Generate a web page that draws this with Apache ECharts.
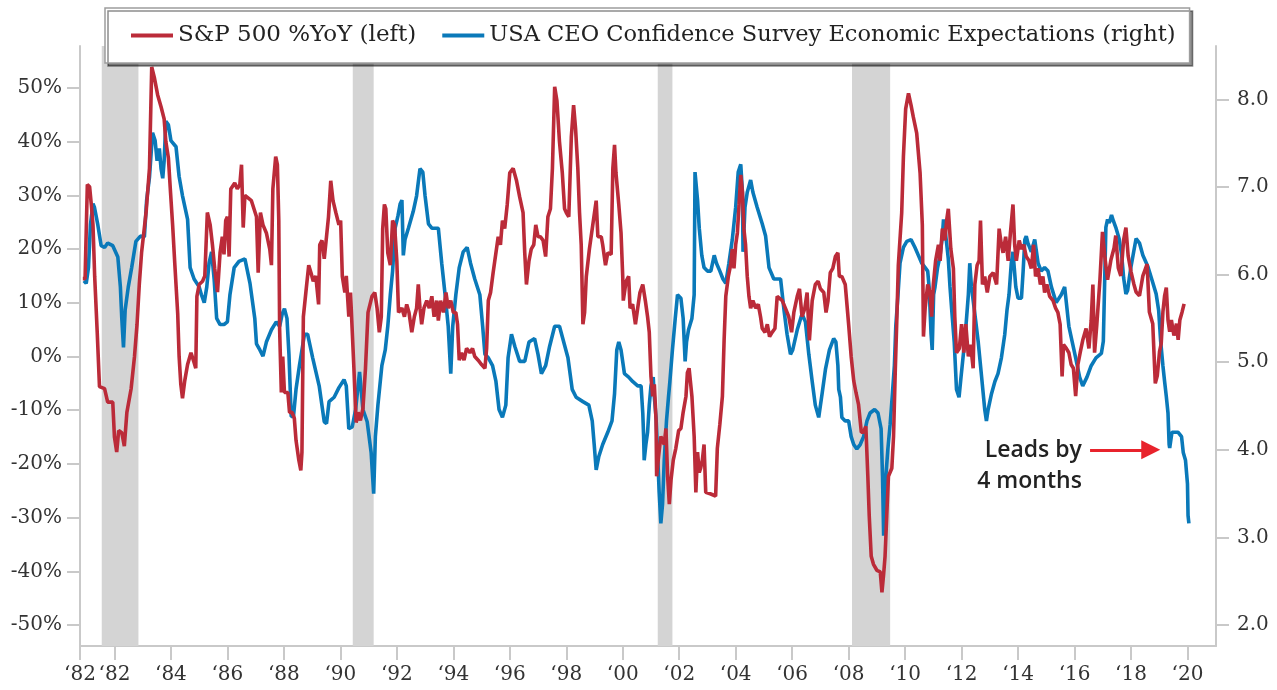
<!DOCTYPE html>
<html>
<head>
<meta charset="utf-8">
<title>S&amp;P 500 vs CEO Confidence</title>
<script src="https://cdn.jsdelivr.net/npm/echarts@6.0.0/dist/echarts.min.js"></script>
<style>
  html, body { margin: 0; padding: 0; background: #fff; }
  #chart { width: 1277px; height: 690px; }
</style>
</head>
<body>
<div id="chart"></div>
<script>
// recessions, decimal years
const recessions = [[1981.55, 1982.85], [1990.44, 1991.18], [2001.24, 2001.76], [2008.12, 2009.47]];

const xTickYears = [1980.78, 1982, 1984, 1986, 1988, 1990, 1992, 1994, 1996, 1998, 2000,
  2002, 2004, 2006, 2008, 2010, 2012, 2014, 2016, 2018, 2020];
const xTickLabels = ['‘82', '‘82', '‘84', '‘86', '‘88', '‘90', '‘92', '‘94', '‘96', '‘98', '‘00',
  '‘02', '‘04', '‘06', '‘08', '‘10', '‘12', '‘14', '‘16', '‘18', '‘20'];
const leftTicks = [-50, -40, -30, -20, -10, 0, 10, 20, 30, 40, 50];
const rightTicks = [2, 3, 4, 5, 6, 7, 8];

// S&P 500 % YoY (left axis)
const spxYoY = [
  [1980.88,14.5],[1980.96,14.5],[1981.04,32],[1981.12,31.6],[1981.18,28.3],[1981.24,24.5],[1981.3,14.9],
  [1981.39,4.5],[1981.47,-5.6],[1981.65,-6],[1981.76,-8.5],[1981.94,-8.5],[1982.0,-15],[1982.08,-17.8],
  [1982.15,-13.8],[1982.26,-14.2],[1982.35,-16.7],[1982.44,-10.4],[1982.59,-6],[1982.71,0],[1982.8,6],
  [1982.88,13.4],[1982.96,19.3],[1983.12,26.8],[1983.24,35],[1983.32,53.9],[1983.41,52],[1983.53,48.7],
  [1983.65,46.5],[1983.76,44.2],[1983.82,40],[1983.91,37],[1983.98,31],[1984.06,24.5],[1984.14,17],
  [1984.24,8],[1984.29,0],[1984.35,-5.2],[1984.41,-7.8],[1984.49,-4.5],[1984.59,-1.5],[1984.71,0.7],
  [1984.82,-1.1],[1984.88,-2.2],[1984.92,11.2],[1985.0,13.4],[1985.12,14],[1985.2,15],[1985.29,26.8],
  [1985.39,24.5],[1985.47,20.8],[1985.55,16.4],[1985.65,12],[1985.74,19.3],[1985.82,22.3],[1985.88,19],
  [1985.94,25.3],[1986.0,26],[1986.06,18.6],[1986.12,31.2],[1986.26,32.3],[1986.35,31.2],
  [1986.44,32],[1986.5,35.7],[1986.56,24],[1986.62,30],[1986.85,29],[1987.03,26],[1987.09,15.6],
  [1987.17,26.8],[1987.26,24.5],[1987.38,23],[1987.5,20],[1987.56,17],[1987.61,31.2],[1987.71,37.2],
  [1987.77,35.7],[1987.82,25.3],[1987.85,5],[1987.91,-6.7],[1987.96,0],[1988.02,-6.7],[1988.14,-6.7],
  [1988.2,-10.4],[1988.29,-10.4],[1988.37,-11.5],[1988.43,-15.6],[1988.53,-19.3],[1988.6,-21.2],
  [1988.64,-17.8],[1988.69,7.4],[1988.78,12],[1988.88,17],[1988.96,15.6],[1989.04,14],[1989.13,15],
  [1989.23,9.7],[1989.27,20.8],[1989.35,21.6],[1989.43,18.2],[1989.51,22.3],[1989.58,26],[1989.66,32.7],
  [1989.74,29],[1989.84,26.8],[1989.95,24.5],[1990.01,25.3],[1990.07,14.9],[1990.16,11.9],[1990.21,15],
  [1990.3,7.4],[1990.36,11.9],[1990.48,-2.2],[1990.56,-12.3],[1990.63,-10.4],[1990.71,-11.9],
  [1990.8,-9.7],[1990.89,-2.2],[1990.98,8.2],[1991.12,11.2],[1991.22,11.9],[1991.3,9],[1991.38,4.5],
  [1991.45,7.4],[1991.5,23.8],[1991.56,28.3],[1991.61,27.5],[1991.68,19.3],[1991.77,17],[1991.85,25.3],
  [1991.92,24.5],[1992.0,17.8],[1992.06,8.2],[1992.18,9],[1992.27,7.4],[1992.35,9.7],[1992.43,8.2],
  [1992.53,4.5],[1992.62,7.4],[1992.7,9],[1992.76,13.4],
  [1992.82,9],[1992.88,6],[1992.96,9],[1993.06,10.4],[1993.15,9],[1993.24,11.2],[1993.32,7.4],
  [1993.41,10.4],[1993.47,6.7],[1993.55,10.4],[1993.65,8.2],[1993.74,11.9],[1993.82,9],[1993.91,10.4],
  [1994.0,8.2],[1994.09,8.2],[1994.15,6],[1994.21,-0.7],[1994.29,0.7],[1994.38,-0.7],[1994.47,1.5],
  [1994.59,0.7],[1994.68,1.5],[1994.76,0],[1994.88,-0.7],[1995.0,-1.5],[1995.12,-2.2],[1995.18,1.5],
  [1995.24,10.4],[1995.32,11.9],[1995.41,15.6],[1995.51,19.3],[1995.59,22.3],[1995.67,20.8],
  [1995.74,25.3],[1995.82,23.8],[1995.91,28.3],[1996.0,34.2],[1996.12,35],[1996.24,32.7],[1996.35,29.7],
  [1996.47,26.8],[1996.53,19.3],[1996.59,13.4],[1996.68,17.8],[1996.76,20],[1996.85,20.8],[1996.92,24.5],
  [1997.0,22.3],[1997.08,22.3],[1997.18,21.6],[1997.27,18.6],[1997.35,26],[1997.44,27.5],[1997.51,35],
  [1997.59,50.2],[1997.67,47.6],[1997.76,40],[1997.86,34.2],[1997.94,27.5],[1998.0,26.8],[1998.09,26],
  [1998.18,40.9],[1998.26,46.8],[1998.33,42.4],[1998.41,35],[1998.47,26.8],[1998.53,20.8],[1998.59,6],
  [1998.65,8.2],[1998.71,14.9],[1998.82,20],[1998.94,24.5],[1999.06,29],[1999.12,22.3],
  [1999.24,22.3],[1999.29,20.8],[1999.39,17],[1999.47,19.3],[1999.59,19],[1999.65,35],[1999.71,39.4],
  [1999.76,34.2],[1999.86,28.3],[1999.94,23],[2000.0,14.9],[2000.02,10.4],[2000.12,14],[2000.21,14.9],
  [2000.26,9],[2000.35,9.7],[2000.45,6],[2000.53,9],[2000.61,11.9],[2000.71,13.4],[2000.8,10.4],
  [2000.88,7.4],[2000.94,4.5],[2001.0,-3.7],[2001.06,-7.4],[2001.12,-5.2],[2001.18,-11.9],[2001.2,-22.3],
  [2001.27,-18.6],[2001.35,-14.9],[2001.47,-16.4],[2001.53,-13.4],[2001.59,-22.3],[2001.65,-27.5],
  [2001.71,-23],[2001.79,-19.3],[2001.88,-17.1],[2001.98,-13.8],[2002.06,-13.4],[2002.14,-10.4],
  [2002.24,-7.4],[2002.29,-3],[2002.35,-2.2],[2002.45,-7.4],[2002.53,-14.9],[2002.59,-25.3],
  [2002.65,-17.8],[2002.71,-21.6],[2002.76,-20.8],[2002.82,-19.3],[2002.88,-16.4],[2002.94,-25.3],
  [2003.12,-25.6],[2003.29,-26],[2003.35,-17.1],[2003.44,-12.6],[2003.53,-7.4],[2003.59,3],[2003.65,11.2],
  [2003.74,14.9],[2003.82,17],[2003.88,20],[2003.94,16.4],[2004.0,20.8],[2004.06,23],[2004.12,28.3],
  [2004.18,33.8],[2004.24,30.5],[2004.29,23.8],[2004.35,20.8],[2004.41,14.9],[2004.47,11.2],[2004.53,9],
  [2004.61,10.4],[2004.71,9],[2004.8,9.7],[2004.88,7.4],[2004.94,5.2],[2005.04,4.5],[2005.12,6],
  [2005.2,3.7],[2005.29,4.5],[2005.39,5.2],[2005.47,11.2],
  [2005.53,11.2],[2005.65,10.4],[2005.76,9],[2005.88,7.4],[2005.98,4.5],[2006.06,8.2],[2006.18,11.2],
  [2006.26,12.6],[2006.35,7.4],[2006.45,9],[2006.53,11.9],[2006.61,3],[2006.71,10.4],[2006.82,13.4],
  [2006.92,14],[2007.0,12.6],[2007.12,11.9],[2007.2,8.2],[2007.27,10.4],[2007.35,15.6],[2007.44,16.4],
  [2007.53,18.6],[2007.62,19.3],[2007.67,14.9],[2007.76,14.9],[2007.88,13.4],[2008.0,6],[2008.09,0],
  [2008.18,-4.5],[2008.26,-6.7],[2008.35,-8.9],[2008.45,-14.1],[2008.53,-14.1],[2008.61,-13],
  [2008.68,-22.3],[2008.73,-29.7],[2008.8,-37.2],[2008.88,-38.7],[2009.0,-39.8],[2009.12,-40.1],
  [2009.18,-43.9],[2009.24,-40.5],[2009.29,-37.2],[2009.35,-29.7],[2009.41,-22.3],[2009.53,-20.8],
  [2009.59,-14.9],[2009.65,-3],[2009.71,7.4],[2009.76,17],[2009.88,26.8],[2009.94,37.2],[2010.02,46.1],
  [2010.12,49],[2010.21,46.8],[2010.29,44.6],[2010.41,41.6],[2010.53,34.2],[2010.61,24.5],[2010.65,3.7],
  [2010.71,9],[2010.8,13.4],[2010.88,11.9],[2010.94,7.4],[2011.0,13.4],[2011.08,17.8],[2011.18,20.8],
  [2011.24,17.8],[2011.32,23.8],[2011.41,21.6],[2011.47,25.3],[2011.53,27.5],[2011.62,20],[2011.71,16.4],
  [2011.76,7.4],[2011.82,0.7],
  [2011.92,1.5],[2012.0,6],[2012.08,0.7],[2012.15,6],[2012.24,0],[2012.32,2.2],[2012.41,-2.2],
  [2012.47,13.4],[2012.55,17],[2012.62,17.8],[2012.67,25.3],[2012.74,13.4],[2012.82,14.9],[2012.91,11.9],
  [2013.0,14.9],[2013.12,15.6],[2013.24,13.4],[2013.33,23.8],[2013.41,20.8],[2013.47,19.3],[2013.56,22.3],
  [2013.65,17.8],[2013.73,23],[2013.82,28.3],[2013.88,20.8],[2013.94,17.8],[2014.04,21.6],[2014.12,20],
  [2014.2,20.8],[2014.29,18.6],[2014.39,17.8],[2014.47,16.4],[2014.55,20.8],[2014.62,14.9],[2014.71,16.4],
  [2014.79,13.4],[2014.88,14.9],[2014.94,11.9],[2015.02,13.4],[2015.12,11.2],[2015.24,10.4],[2015.33,9],
  [2015.41,8.2],[2015.49,6],[2015.56,-3.7],[2015.61,2.2],[2015.71,1.5],[2015.8,0.7],[2015.88,-1.5],
  [2015.96,-2.2],[2016.04,-7.4],[2016.12,-1.5],[2016.2,0.7],[2016.29,3],[2016.41,5.2],[2016.51,1.5],
  [2016.59,6.7],[2016.65,13.4],[2016.71,0.7],[2016.79,6],
  [2016.9,14.3],[2016.99,23.2],[2017.07,18.7],[2017.17,14.3],[2017.29,18],[2017.4,20.2],[2017.46,22.5],
  [2017.55,16.5],[2017.64,15],[2017.74,21.7],[2017.82,24],[2017.9,18.7],[2018.0,15.8],[2018.1,13.5],
  [2018.18,12],[2018.3,11.3],[2018.42,15],[2018.57,17.2],[2018.65,8.3],[2018.77,6.1],[2018.86,-5],
  [2018.93,-3.6],[2019.01,0.9],[2019.07,2.4],[2019.13,8.3],[2019.19,11.3],[2019.25,12.8],[2019.31,6.8],
  [2019.37,4.6],[2019.43,6.8],[2019.52,3.9],[2019.61,6.1],[2019.67,3.1],[2019.73,6.8],[2019.81,8.3],
  [2019.88,9.8]
];

// USA CEO Confidence Survey, economic expectations (right axis)
const ceoExpect = [
  [1980.92,5.93],[1981.0,5.9],[1981.08,6.08],[1981.15,6.57],[1981.24,6.81],[1981.29,6.77],[1981.41,6.57],
  [1981.53,6.33],[1981.65,6.31],[1981.76,6.36],[1981.94,6.33],[1982.12,6.2],[1982.21,5.86],[1982.26,5.5],
  [1982.32,5.17],[1982.38,5.6],[1982.49,5.86],[1982.61,6.08],[1982.76,6.38],[1982.92,6.44],[1983.06,6.43],
  [1983.14,6.85],[1983.24,7.11],[1983.35,7.62],[1983.44,7.53],[1983.51,7.3],[1983.59,7.44],[1983.65,7.21],
  [1983.71,7.1],[1983.76,7.3],[1983.82,7.75],[1983.91,7.71],[1984.0,7.53],[1984.18,7.46],[1984.29,7.12],
  [1984.41,6.9],[1984.59,6.63],[1984.68,6.08],[1984.82,5.95],[1985.0,5.86],[1985.08,5.77],[1985.18,5.68],
  [1985.27,5.86],[1985.35,6.13],[1985.44,6.26],[1985.53,5.95],[1985.62,5.5],[1985.74,5.43],[1985.88,5.43],
  [1986.0,5.46],[1986.09,5.77],[1986.24,6.08],[1986.41,6.15],[1986.62,6.18],[1986.8,5.9],[1986.97,5.5],
  [1987.03,5.21],[1987.15,5.14],[1987.26,5.07],[1987.38,5.23],[1987.56,5.37],[1987.73,5.46],[1987.85,5.41],
  [1987.94,5.55],[1988.02,5.61],[1988.11,5.5],[1988.18,5.09],[1988.26,4.38],[1988.34,4.38],[1988.43,4.69],
  [1988.55,4.96],[1988.73,5.32],[1988.84,5.32],[1989.02,5.05],[1989.25,4.73],[1989.43,4.32],[1989.51,4.3],
  [1989.6,4.55],[1989.78,4.6],[1989.95,4.71],[1990.13,4.8],[1990.21,4.73],[1990.3,4.24],[1990.42,4.26],
  [1990.54,4.46],[1990.68,4.89],[1990.8,4.46],[1990.95,4.32],[1991.09,3.97],[1991.18,3.5],[1991.24,4.15],
  [1991.33,4.51],[1991.47,4.96],[1991.59,5.14],[1991.68,5.41],[1991.77,5.77],[1991.85,6.04],[1991.94,6.53],
  [1992.04,6.67],[1992.12,6.81],[1992.18,6.85],[1992.23,6.22],[1992.29,6.4],[1992.41,6.53],[1992.58,6.72],
  [1992.7,6.9],[1992.82,7.21],[1992.92,7.17],[1993.0,6.9],[1993.12,6.58],[1993.24,6.53],[1993.47,6.53],
  [1993.59,6.13],[1993.71,5.77],[1993.82,5.41],[1993.91,4.87],[1993.98,5.41],[1994.09,5.77],[1994.21,6.08],
  [1994.35,6.26],[1994.49,6.31],[1994.61,6.13],[1994.76,5.95],[1994.94,5.77],[1995.04,5.41],[1995.12,5.09],
  [1995.24,5.05],[1995.39,4.96],[1995.51,4.78],[1995.62,4.46],[1995.74,4.37],[1995.86,4.51],[1995.94,5.05],
  [1996.06,5.32],[1996.18,5.18],[1996.35,5.01],[1996.53,5.01],[1996.68,5.23],[1996.88,5.27],[1997.0,5.09],
  [1997.12,4.87],[1997.27,4.96],[1997.41,5.18],[1997.59,5.41],[1997.76,5.41],[1997.91,5.23],[1998.06,5.05],
  [1998.21,4.69],[1998.35,4.6],[1998.59,4.55],[1998.8,4.51],[1998.92,4.33],[1998.99,4.06],[1999.06,3.77],
  [1999.15,3.92],[1999.29,4.06],[1999.47,4.2],[1999.62,4.33],[1999.71,4.64],[1999.79,5.14],[1999.86,5.23],
  [1999.94,5.14],[2000.06,4.87],[2000.21,4.83],[2000.35,4.78],[2000.53,4.73],[2000.65,4.73],[2000.71,4.42],
  [2000.74,4.15],[2000.76,3.88],[2000.82,4.06],[2000.88,4.2],[2000.94,4.51],[2001.0,4.73],[2001.08,4.83],
  [2001.12,4.6],[2001.18,4.37],[2001.24,3.92],[2001.29,3.52],[2001.35,3.16],[2001.41,3.38],[2001.47,3.88],
  [2001.55,4.33],[2001.62,4.6],[2001.67,4.78],[2001.76,5.14],[2001.86,5.5],[2001.94,5.77],[2002.06,5.73],
  [2002.14,5.5],[2002.21,5.01],[2002.26,5.23],[2002.33,5.37],[2002.45,5.5],[2002.53,5.77],[2002.56,7.17],
  [2002.65,6.85],[2002.71,6.53],[2002.8,6.22],[2002.88,6.08],[2003.0,6.04],[2003.12,6.04],[2003.24,6.22],
  [2003.32,6.13],[2003.44,6.04],[2003.55,5.95],[2003.65,5.9],[2003.76,6.13],[2003.88,6.4],[2004.0,6.77],
  [2004.09,7.17],[2004.18,7.26],[2004.24,6.94],[2004.26,6.26],[2004.33,6.77],[2004.41,6.94],[2004.53,7.08],
  [2004.61,6.94],[2004.76,6.77],[2004.94,6.58],[2005.06,6.44],[2005.18,6.08],[2005.35,5.95],[2005.59,5.95],
  [2005.71,5.6],[2005.82,5.32],[2005.94,5.09],[2006.02,5.14],[2006.18,5.37],[2006.35,5.55],[2006.47,5.46],
  [2006.59,5.09],[2006.71,4.78],[2006.82,4.51],[2006.94,4.37],[2007.06,4.64],[2007.18,4.92],[2007.32,5.14],
  [2007.47,5.27],[2007.55,5.23],[2007.62,4.96],[2007.65,4.69],[2007.71,4.6],[2007.76,4.37],[2007.88,4.33],
  [2008.0,4.33],[2008.09,4.15],[2008.18,4.06],[2008.29,4.01],[2008.41,4.06],[2008.53,4.15],[2008.65,4.33],
  [2008.76,4.42],[2008.92,4.46],[2009.04,4.42],[2009.15,4.24],[2009.2,3.7],[2009.24,3.02],[2009.29,3.57],
  [2009.39,4.01],[2009.47,4.29],[2009.53,4.55],[2009.62,4.96],[2009.67,5.41],[2009.74,5.73],[2009.82,6.13],
  [2009.94,6.31],[2010.06,6.38],[2010.21,6.4],[2010.35,6.31],[2010.47,6.22],[2010.59,6.13],[2010.71,6.08],
  [2010.8,6.04],[2010.85,5.86],[2010.92,5.32],[2010.96,5.14],[2011.01,5.77],[2011.06,5.86],[2011.15,6.08],
  [2011.24,6.22],[2011.32,6.44],[2011.36,6.63],[2011.41,6.53],[2011.47,6.36],[2011.53,6.18],[2011.59,5.86],
  [2011.65,5.6],[2011.74,5.23],[2011.82,4.69],[2011.91,4.6],[2011.98,4.83],[2012.12,5.27],[2012.24,5.77],
  [2012.29,6.13],[2012.35,5.86],[2012.47,5.55],[2012.59,5.23],[2012.71,4.83],[2012.82,4.46],[2012.88,4.33],
  [2012.94,4.46],[2013.06,4.64],[2013.18,4.78],[2013.29,4.87],[2013.41,5.05],[2013.53,5.32],[2013.61,5.6],
  [2013.68,5.77],[2013.76,6.13],[2013.82,6.26],[2013.92,5.86],[2014.0,5.73],[2014.12,5.73],[2014.18,6.04],
  [2014.24,6.4],[2014.29,6.44],[2014.35,6.36],[2014.47,6.26],[2014.59,6.4],[2014.71,6.13],[2014.82,6.04],
  [2014.94,6.08],[2015.06,6.04],[2015.18,5.86],[2015.35,5.68],[2015.53,5.77],[2015.65,5.86],[2015.71,5.68],
  [2015.8,5.41],[2015.92,5.23],[2016.04,5.05],[2016.18,4.83],[2016.29,4.73],[2016.44,4.83],[2016.59,4.96],
  [2016.76,5.05],[2016.95,5.1],[2017.02,5.24],[2017.07,5.96],[2017.11,6.54],[2017.17,6.63],[2017.23,6.59],
  [2017.31,6.68],[2017.38,6.61],[2017.46,6.54],[2017.58,6.41],[2017.67,6.22],[2017.74,5.96],[2017.82,5.78],
  [2017.88,5.82],[2017.94,5.96],[2018.0,6.09],[2018.1,6.27],[2018.18,6.41],[2018.3,6.36],[2018.42,6.22],
  [2018.6,6.09],[2018.77,5.91],[2018.89,5.78],[2018.98,5.59],[2019.05,5.24],[2019.13,4.96],[2019.19,4.78],
  [2019.25,4.61],[2019.31,4.42],[2019.35,4.06],[2019.37,4.02],[2019.45,4.2],[2019.55,4.2],[2019.67,4.2],
  [2019.79,4.15],[2019.85,3.97],[2019.93,3.88],[2020.0,3.61],[2020.02,3.25],[2020.05,3.16]
];

// "leads by" note: arrow ends (head centred on the end) and text anchors, right axis scale
const noteArrow = [[2016.55, 4.0], [2018.7, 4.0]];
const noteText = [['Leads by', 2016.26, 3.99], ['4 months', 2016.26, 3.64]];

const SPX = 'S&P 500 %YoY (left)';
const CEO = 'USA CEO Confidence Survey Economic Expectations (right)';
const RED = '#bb2b39';
const BLUE = '#0a79b9';
const AXIS_GREY = '#c9c9c9';
const serif = 'DejaVu Serif';

const labelStyle = { fontFamily: serif, fontSize: 20, color: '#333' };

const chart = echarts.init(document.getElementById('chart'));

chart.setOption({
  animation: false,
  backgroundColor: '#fff',
  grid: { left: 80, right: 61, top: 46, bottom: 44, containLabel: false },
  legend: {
    data: [
      { name: SPX, textStyle: { fontSize: 23 } },
      { name: CEO, textStyle: { fontSize: 22.5 } }
    ],
    left: 105,
    top: 8,
    icon: 'rect',
    itemWidth: 42,
    itemHeight: 4,
    itemGap: 26,
    padding: [16, 14, 16, 26],
    backgroundColor: '#fff',
    borderColor: '#9d9d9d',
    borderWidth: 1.5,
    shadowColor: 'rgba(0,0,0,0.45)',
    shadowOffsetX: 3,
    shadowOffsetY: 3,
    shadowBlur: 0,
    selectedMode: false,
    textStyle: { fontFamily: serif, fontSize: 23, color: '#222' }
  },
  xAxis: {
    type: 'value',
    min: 1980.78,
    max: 2021.01,
    axisLine: { show: true, onZero: false, lineStyle: { color: AXIS_GREY, width: 2 } },
    axisTick: { show: true, length: 14, customValues: xTickYears, lineStyle: { color: AXIS_GREY, width: 2 } },
    axisLabel: Object.assign({
      margin: 19,
      customValues: xTickYears,
      formatter: v => xTickLabels[xTickYears.indexOf(v)]
    }, labelStyle),
    splitLine: { show: false }
  },
  yAxis: [
    {
      type: 'value',
      position: 'left',
      min: -53.9,
      max: 57.8,
      axisLine: { show: true, lineStyle: { color: AXIS_GREY, width: 2 } },
      axisTick: { show: true, length: 13, customValues: leftTicks, lineStyle: { color: AXIS_GREY, width: 2 } },
      axisLabel: Object.assign({ margin: 18, customValues: leftTicks, formatter: v => v + '%' }, labelStyle),
      splitLine: { show: false }
    },
    {
      type: 'value',
      position: 'right',
      min: 1.76,
      max: 8.61,
      axisLine: { show: true, lineStyle: { color: AXIS_GREY, width: 2 } },
      axisTick: { show: true, length: 13, customValues: rightTicks, lineStyle: { color: AXIS_GREY, width: 2 } },
      axisLabel: Object.assign({ margin: 21, customValues: rightTicks, formatter: v => v.toFixed(1) }, labelStyle),
      splitLine: { show: false }
    }
  ],
  series: [
    {
      name: CEO,
      type: 'line',
      yAxisIndex: 1,
      data: ceoExpect,
      showSymbol: false,
      symbol: 'none',
      lineStyle: { color: BLUE, width: 3.6 },
      itemStyle: { color: BLUE },
      z: 2,
      markArea: {
        silent: true,
        itemStyle: { color: '#d4d4d4' },
        data: recessions.map(r => [{ xAxis: r[0] }, { xAxis: r[1] }])
      },
      markLine: {
        silent: true,
        symbol: ['none', 'triangle'],
        symbolSize: 19,
        label: { show: false },
        itemStyle: { color: '#e8232c' },
        lineStyle: { color: '#e8232c', width: 3, type: 'solid' },
        data: [[{ coord: noteArrow[0] }, { coord: noteArrow[1] }]]
      }
    },
    {
      name: SPX,
      type: 'line',
      yAxisIndex: 0,
      data: spxYoY,
      showSymbol: false,
      symbol: 'none',
      lineStyle: { color: RED, width: 3.6 },
      itemStyle: { color: RED },
      z: 3
    }
  ]
});

// note text, placed through the blue series' axes
chart.setOption({
  graphic: noteText.map(([txt, yr, val]) => {
    const p = chart.convertToPixel({ seriesIndex: 0 }, [yr, val]);
    return {
      type: 'text',
      x: p[0],
      y: p[1],
      z: 10,
      style: {
        text: txt,
        textAlign: 'right',
        align: 'right',
        textVerticalAlign: 'middle',
        verticalAlign: 'middle',
        fontFamily: 'Open Sans',
        fontWeight: 600,
        fontSize: 23,
        fill: '#222'
      }
    };
  })
});
</script>
</body>
</html>
